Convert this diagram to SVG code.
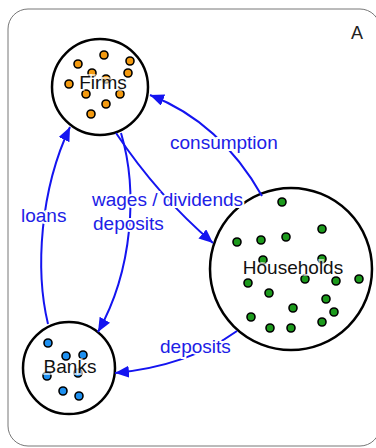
<svg xmlns="http://www.w3.org/2000/svg" width="376" height="448" viewBox="0 0 376 448">
<defs>
<style>
.node{fill:#fff;stroke:#000;stroke-width:2.5}
.lbl{font-family:"Liberation Sans",Arial,sans-serif;font-size:19px;fill:#111;text-anchor:middle;stroke:#fff;stroke-opacity:0.65;stroke-width:4;paint-order:stroke}
.d{stroke:#000;stroke-width:1.6}
.o{fill:#f39a10}
.g{fill:#1c9a1c}
.b{fill:#1e90f0}
.edge{fill:none;stroke:#1414f0;stroke-width:2;marker-end:url(#ah)}
.elbl{font-family:"Liberation Sans",Arial,sans-serif;font-size:19px;fill:#2020e6;stroke:#fff;stroke-width:4;paint-order:stroke}
</style>
<marker id="ah" markerUnits="userSpaceOnUse" markerWidth="16" markerHeight="14" refX="14" refY="6" orient="auto">
<path d="M0,0 L14,6 L0,12 Z" fill="#1414f0"/>
</marker>
</defs>
<rect id="frame" x="8" y="9" width="372" height="437" rx="20" ry="20" fill="#fff" stroke="#777" stroke-width="1"/>
<text id="panel-label" x="357" y="39" font-family="'Liberation Sans',Arial,sans-serif" font-size="18" fill="#222" text-anchor="middle">A</text>

<g id="node-firms">
<circle class="node" cx="100" cy="87" r="48"/>
<circle class="d o" cx="104" cy="55" r="4"/>
<circle class="d o" cx="78" cy="64" r="4"/>
<circle class="d o" cx="130" cy="61" r="4"/>
<circle class="d o" cx="128" cy="73" r="4"/>
<circle class="d o" cx="92" cy="73" r="4"/>
<circle class="d o" cx="106" cy="79" r="4"/>
<circle class="d o" cx="69" cy="84" r="4"/>
<circle class="d o" cx="86" cy="94" r="4"/>
<circle class="d o" cx="120" cy="94" r="4"/>
<circle class="d o" cx="106" cy="104" r="4"/>
<circle class="d o" cx="91" cy="114" r="4"/>
<text class="lbl" x="103" y="89">Firms</text>
</g>

<g id="node-households">
<circle class="node" cx="291" cy="269" r="81"/>
<circle class="d g" cx="282" cy="202" r="4"/>
<circle class="d g" cx="322" cy="229" r="4"/>
<circle class="d g" cx="237" cy="242" r="4"/>
<circle class="d g" cx="261" cy="240" r="4"/>
<circle class="d g" cx="286" cy="237" r="4"/>
<circle class="d g" cx="263" cy="260" r="4"/>
<circle class="d g" cx="322" cy="259" r="4"/>
<circle class="d g" cx="248" cy="283" r="4"/>
<circle class="d g" cx="305" cy="279" r="4"/>
<circle class="d g" cx="336" cy="281" r="4"/>
<circle class="d g" cx="359" cy="279" r="4"/>
<circle class="d g" cx="269" cy="293" r="4"/>
<circle class="d g" cx="326" cy="299" r="4"/>
<circle class="d g" cx="293" cy="308" r="4"/>
<circle class="d g" cx="334" cy="312" r="4"/>
<circle class="d g" cx="251" cy="317" r="4"/>
<circle class="d g" cx="270" cy="328" r="4"/>
<circle class="d g" cx="291" cy="328" r="4"/>
<circle class="d g" cx="322" cy="322" r="4"/>
<text class="lbl" x="293" y="274">Households</text>
</g>

<g id="node-banks">
<circle class="node" cx="69" cy="368" r="46"/>
<circle class="d b" cx="48" cy="343" r="4"/>
<circle class="d b" cx="66" cy="356" r="4"/>
<circle class="d b" cx="83" cy="355" r="4"/>
<circle class="d b" cx="47" cy="376" r="4"/>
<circle class="d b" cx="78" cy="373" r="4"/>
<circle class="d b" cx="63" cy="391" r="4"/>
<circle class="d b" cx="79" cy="396" r="4"/>
<text class="lbl" x="70" y="373">Banks</text>
</g>

<g id="connectors">
<path id="e-consumption" class="edge" d="M262,196 Q220,122 150,95"/>
<path id="e-wages" class="edge" d="M116,133 Q158,196 213,243"/>
<path id="e-deposits-fb" class="edge" d="M121,133 C138,190 133,270 98,332"/>
<path id="e-loans" class="edge" d="M48,324 C35,270 40,190 70,127"/>
<path id="e-deposits-hb" class="edge" d="M237,331 Q188,366 115,373"/>
<text class="elbl" x="170" y="149">consumption</text>
<text class="elbl" x="92" y="206">wages / dividends</text>
<text class="elbl" x="93" y="230">deposits</text>
<text class="elbl" x="21" y="222">loans</text>
<text class="elbl" x="160" y="353">deposits</text>
</g>
</svg>
